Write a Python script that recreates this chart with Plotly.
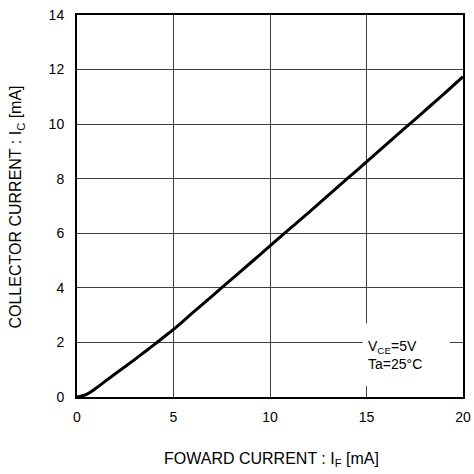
import plotly.graph_objects as go

forward_current = [0, 0.5, 1, 1.5, 2, 2.5, 3, 3.5, 4, 4.5, 5, 6, 7, 8, 9, 10,
                   11, 12, 13, 14, 15, 16, 17, 18, 19, 20]
collector_current = [0, 0.1, 0.33, 0.6, 0.86, 1.12, 1.38, 1.65, 1.92, 2.2, 2.48,
                     3.09, 3.7, 4.31, 4.92, 5.54, 6.15, 6.76, 7.38, 8.0, 8.62,
                     9.24, 9.86, 10.48, 11.1, 11.74]
x_ticks = [0, 5, 10, 15, 20]
y_ticks = [0, 2, 4, 6, 8, 10, 12, 14]

FONT = "Liberation Sans, Arial"

fig = go.Figure()
fig.add_trace(go.Scatter(x=forward_current, y=collector_current, mode="lines",
                         line=dict(color="black", width=3, shape="spline", smoothing=1.0),
                         showlegend=False, hoverinfo="skip"))

fig.add_shape(type="rect", x0=14.8, x1=19.3, y0=0.4, y1=2.7, xref="x", yref="y",
              fillcolor="white", line=dict(width=0), layer="above")
fig.add_annotation(x=14.95, y=1.55, xref="x", yref="y", xanchor="left", yanchor="middle",
                   text="V<sub>CE</sub>=5V<br>Ta=25°C", showarrow=False, align="left",
                   font=dict(family=FONT, size=14, color="black"))

# axis titles
fig.add_annotation(x=0.503, y=-0.164, xref="paper", yref="paper", xanchor="center",
                   yanchor="middle", showarrow=False,
                   text="FOWARD CURRENT : I<sub>F</sub> [mA]",
                   font=dict(family=FONT, size=16, color="black"))
fig.add_annotation(x=-0.157, y=0.497, xref="paper", yref="paper", xanchor="center",
                   yanchor="middle", showarrow=False, textangle=-90,
                   text="COLLECTOR CURRENT : I<sub>C</sub> [mA]",
                   font=dict(family=FONT, size=16, color="black"))

axis_common = dict(showgrid=True, gridcolor="#404040", gridwidth=1,
                   showline=True, linecolor="black", linewidth=2, mirror=True,
                   ticks="", zeroline=False, automargin=False,
                   tickfont=dict(family=FONT, size=14, color="black"))

fig.update_xaxes(range=[0, 20], tickvals=x_ticks, ticklabelstandoff=6, **axis_common)
fig.update_yaxes(range=[0, 14], tickvals=y_ticks, ticklabelstandoff=8, **axis_common)

fig.update_layout(width=474, height=474, margin=dict(l=77, r=11, t=15, b=77),
                  plot_bgcolor="white", paper_bgcolor="white")
fig.write_html("out.html", config={"displayModeBar": False})

with open("out.html", "r", encoding="utf-8") as f:
    html = f.read()
html = html.replace("<body>", "<body style=\"margin:0;overflow:hidden\">", 1)
with open("out.html", "w", encoding="utf-8") as f:
    f.write(html)
